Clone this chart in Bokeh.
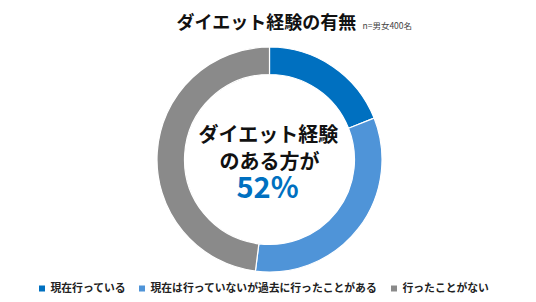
import math
from bokeh.plotting import figure
from bokeh.models import Range1d, ColumnDataSource
from bokeh.core.properties import value
from bokeh.embed import file_html
from bokeh.resources import INLINE

# ---- data ----
categories = ["現在行っている", "現在は行っていないが過去に行ったことがある", "行ったことがない"]
shares = [19, 33, 48]
colors = ["#0070C0", "#4F94D8", "#8A8A8A"]
title = "ダイエット経験の有無"
subtitle = "n=男女400名"
center_lines = ["ダイエット経験", "のある方が"]
center_value = "52%"

W, H = 536, 302
FONT = value("Noto Sans CJK JP")

p = figure(width=W, height=H, output_backend="svg", toolbar_location=None,
           x_range=Range1d(0, W), y_range=Range1d(0, H), min_border=0)
p.axis.visible = False
p.grid.visible = False
p.outline_line_color = None
p.background_fill_color = "white"
p.border_fill_color = "white"

def Y(py):
    return H - py

# donut
cx, cy = 269, Y(159)
total = sum(shares)
starts, ends = [], []
acc = 0
for s in shares:
    starts.append(math.pi / 2 - 2 * math.pi * acc / total)
    acc += s
    ends.append(math.pi / 2 - 2 * math.pi * acc / total)
src = ColumnDataSource(dict(start=starts, end=ends, color=colors))
p.annular_wedge(x=cx, y=cy, inner_radius=85, outer_radius=112.5,
                start_angle="start", end_angle="end", direction="clock",
                fill_color="color", line_color="white", line_width=1.2, source=src)

# title
p.text(x=[266], y=[Y(20)], text=[title], text_font=FONT, text_font_style="bold",
       text_font_size="18px", text_align="center", text_baseline="middle", text_color="#111111")
p.text(x=[362], y=[Y(24)], text=[subtitle], text_font=FONT,
       text_font_size="8.5px", text_align="left", text_baseline="middle", text_color="#444444")

# centre text
p.text(x=[cx - 1], y=[Y(133)], text=[center_lines[0]], text_font=FONT, text_font_style="bold",
       text_font_size="20px", text_align="center", text_baseline="middle", text_color="#111111")
p.text(x=[cx], y=[Y(160)], text=[center_lines[1]], text_font=FONT, text_font_style="bold",
       text_font_size="20px", text_align="center", text_baseline="middle", text_color="#111111")
p.text(x=[cx - 2], y=[Y(184)], text=[center_value], text_font=FONT, text_font_style="bold",
       text_font_size="29px", text_align="center", text_baseline="middle", text_color="#0070C0")

# legend
leg_x = [39, 139, 391]
leg_y = Y(288)
p.rect(x=[x + 2.5 for x in leg_x], y=[leg_y] * 3, width=6, height=6,
       fill_color=colors, line_color=None)
p.text(x=[x + 11 for x in leg_x], y=[Y(286)] * 3, text=categories, text_font=FONT,
       text_font_style="bold", text_font_size="10.8px", text_align="left",
       text_baseline="middle", text_color="#222222")

open("out.html", "w").write(file_html(p, INLINE))
